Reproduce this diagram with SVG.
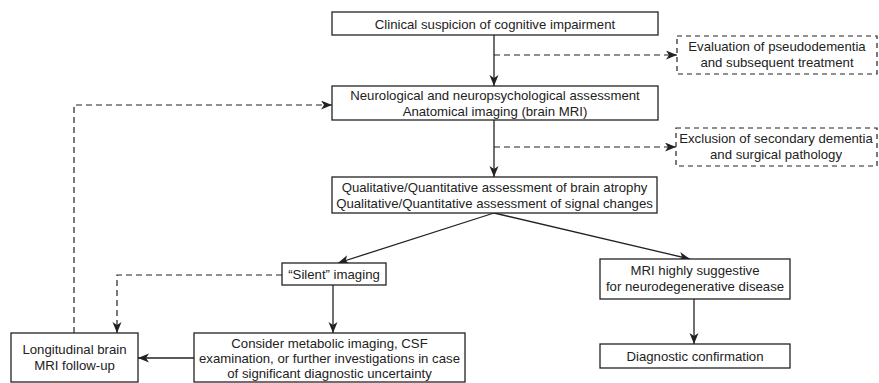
<svg xmlns="http://www.w3.org/2000/svg" width="879" height="383" viewBox="0 0 879 383">
<style>
.box{fill:#fff;stroke:#222;stroke-width:1.3}
.dbox{fill:#fff;stroke:#222;stroke-width:1.2;stroke-dasharray:5 4}
.t{font-family:"Liberation Sans",Arial,sans-serif;font-size:13.2px;fill:#222;text-anchor:middle}
.ln{fill:none;stroke:#222;stroke-width:1.3}
.dl{fill:none;stroke:#222;stroke-width:1.2;stroke-dasharray:6 4}
</style>
<defs>
<marker id="ah" markerUnits="userSpaceOnUse" markerWidth="12" markerHeight="10" refX="11" refY="4.5" orient="auto">
<path d="M0,0 L11,4.5 L0,9 L3,4.5 z" fill="#222"/>
</marker>
</defs>
<rect width="879" height="383" fill="#fff"/>
<g id="connectors">
<line class="ln" x1="494" y1="35" x2="494" y2="86" marker-end="url(#ah)"/>
<line class="dl" x1="494" y1="55" x2="677" y2="55" marker-end="url(#ah)"/>
<line class="ln" x1="494" y1="120" x2="494" y2="177" marker-end="url(#ah)"/>
<line class="dl" x1="494" y1="147" x2="676" y2="147" marker-end="url(#ah)"/>
<line class="ln" x1="494" y1="213" x2="338" y2="263" marker-end="url(#ah)"/>
<line class="ln" x1="494" y1="213" x2="690" y2="259" marker-end="url(#ah)"/>
<line class="ln" x1="333" y1="285" x2="333" y2="333" marker-end="url(#ah)"/>
<line class="ln" x1="694" y1="299" x2="694" y2="344" marker-end="url(#ah)"/>
<line class="ln" x1="194" y1="358" x2="138" y2="358" marker-end="url(#ah)"/>
<polyline class="dl" points="282,275 117,275 117,333" marker-end="url(#ah)"/>
<polyline class="dl" points="74,333 74,105 332,105" marker-end="url(#ah)"/>
</g>
<g id="n1">
<rect class="box" x="332" y="12" width="326" height="23"/>
<text class="t" x="495" y="28.5">Clinical suspicion of cognitive impairment</text>
</g>
<g id="n2">
<rect class="dbox" x="677" y="36" width="200" height="38"/>
<text class="t" x="777" y="51">Evaluation of pseudodementia</text>
<text class="t" x="777" y="67">and subsequent treatment</text>
</g>
<g id="n3">
<rect class="box" x="332" y="86" width="326" height="34"/>
<text class="t" x="495" y="100">Neurological and neuropsychological assessment</text>
<text class="t" x="495" y="115.5">Anatomical imaging (brain MRI)</text>
</g>
<g id="n4">
<rect class="dbox" x="676" y="128" width="201" height="38"/>
<text class="t" x="776" y="143">Exclusion of secondary dementia</text>
<text class="t" x="776" y="159">and surgical pathology</text>
</g>
<g id="n5">
<rect class="box" x="332" y="177" width="325" height="36"/>
<text class="t" x="494.5" y="191.5">Qualitative/Quantitative assessment of brain atrophy</text>
<text class="t" x="494.5" y="207.5">Qualitative/Quantitative assessment of signal changes</text>
</g>
<g id="n6">
<rect class="box" x="282" y="263" width="104" height="22"/>
<text class="t" x="334" y="278.5">“Silent” imaging</text>
</g>
<g id="n7">
<rect class="box" x="600" y="259" width="190" height="40"/>
<text class="t" x="695" y="275">MRI highly suggestive</text>
<text class="t" x="695" y="291">for neurodegenerative disease</text>
</g>
<g id="n8">
<rect class="box" x="600" y="344" width="190" height="24"/>
<text class="t" x="695" y="360.5">Diagnostic confirmation</text>
</g>
<g id="n9">
<rect class="box" x="194" y="333" width="271" height="49"/>
<text class="t" x="329.5" y="348">Consider metabolic imaging, CSF</text>
<text class="t" x="329.5" y="363">examination, or further investigations in case</text>
<text class="t" x="329.5" y="378">of significant diagnostic uncertainty</text>
</g>
<g id="n10">
<rect class="box" x="11" y="333" width="127" height="49"/>
<text class="t" x="74.5" y="354">Longitudinal brain</text>
<text class="t" x="74.5" y="370">MRI follow-up</text>
</g>
</svg>
